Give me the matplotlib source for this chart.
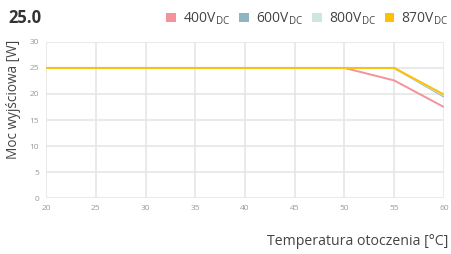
import matplotlib
matplotlib.use("Agg")
import matplotlib.pyplot as plt
from matplotlib.patches import Patch

plt.rcParams['font.family'] = ['Open Sans', 'DejaVu Sans']

temps = [20, 25, 30, 35, 40, 45, 50, 55, 60]
p400 = [25, 25, 25, 25, 25, 25, 25, 22.6, 17.5]
p600 = [25, 25, 25, 25, 25, 25, 25, 25, 19.5]
p800 = [25, 25, 25, 25, 25, 25, 25, 25, 19.7]
p870 = [25, 25, 25, 25, 25, 25, 25, 25, 19.9]
labels = ["400", "600", "800", "870"]
colors = ["#F4939A", "#8FB5BF", "#CFE6DF", "#FFC000"]
xticks = [20, 25, 30, 35, 40, 45, 50, 55, 60]
yticks = [0, 5, 10, 15, 20, 25, 30]

fig = plt.figure(figsize=(4.52, 2.54), dpi=100)
ax = fig.add_axes([0.102, 0.220, 0.880, 0.615])
for series, c in zip([p400, p600, p800, p870], colors):
    ax.plot(temps, series, color=c, lw=1.4, solid_capstyle='butt')
ax.set_xlim(20, 60)
ax.set_ylim(0, 30)
ax.set_xticks(xticks)
ax.set_yticks(yticks)
ax.grid(True, color="#E6E6E6", lw=1.2)
ax.set_axisbelow(True)
for s in ax.spines.values():
    s.set_visible(False)
ax.tick_params(length=0, labelsize=6, colors="#9A9A9A", pad=5)
ax.set_ylabel("Moc wyjściowa [W]", fontsize=9.8, color="#444444")
ax.yaxis.set_label_coords(-0.063, 0.63)
fig.text(0.993, 0.035, "Temperatura otoczenia [°C]", ha='right', va='baseline',
         fontsize=10.2, color="#444444")
fig.text(0.018, 0.91, "25.0", fontsize=12, fontweight='bold', color="#333333",
         va='baseline')

handles = [Patch(facecolor=c, edgecolor='none') for c in colors]
leg_labels = [f"{l}V$_{{\\mathregular{{DC}}}}$" for l in labels]
fig.legend(handles, leg_labels, loc='upper right', bbox_to_anchor=(1.02, 1.008),
           ncol=4, frameon=False, fontsize=10, handlelength=0.7, handleheight=0.7,
           handletextpad=0.5, columnspacing=0.65, labelcolor="#444444")
fig.savefig("out.png", dpi=100)
